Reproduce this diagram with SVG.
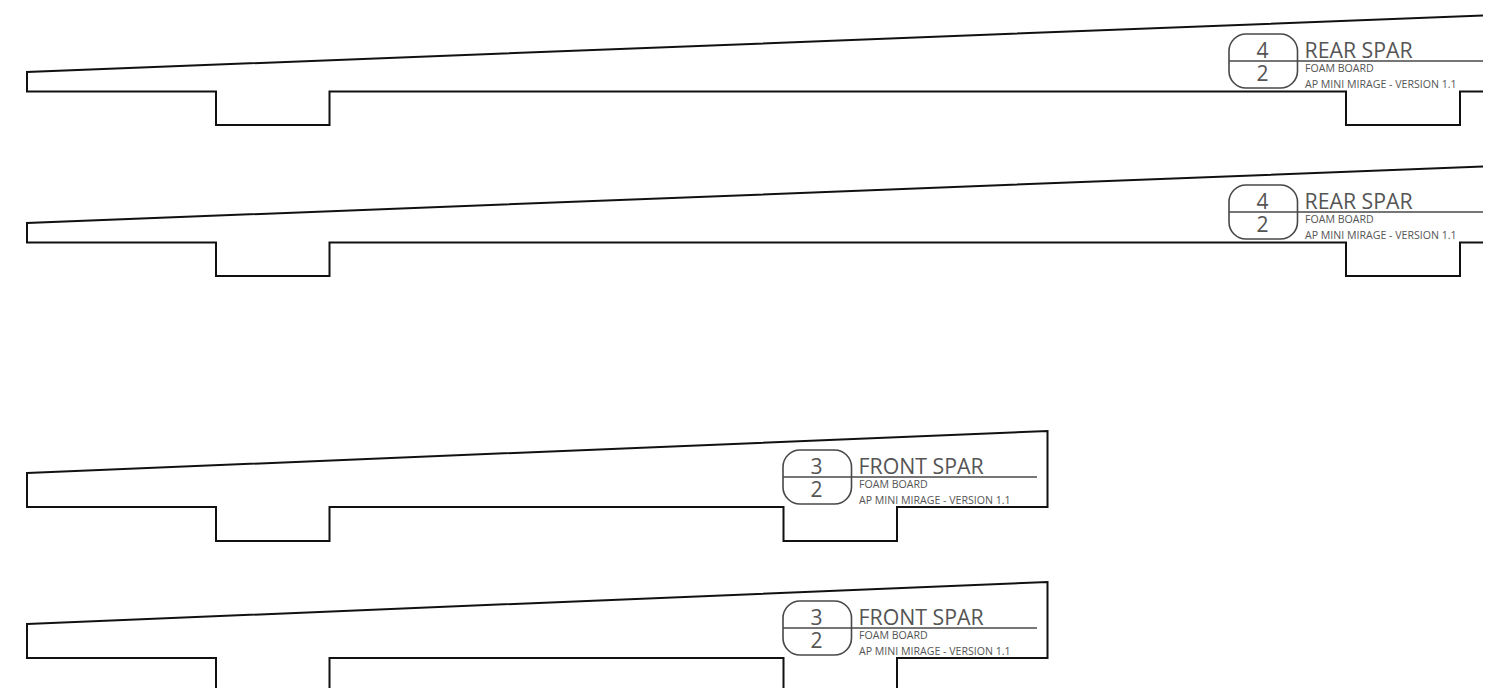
<svg xmlns="http://www.w3.org/2000/svg" width="1485" height="688" viewBox="0 0 1485 688">
<style>
.o{fill:none;stroke:#111;stroke-width:2}
.l{fill:none;stroke:#484848;stroke-width:1.600}
text{font-family:"Open Sans","Noto Sans","DejaVu Sans",sans-serif;fill:#555}
.n{font-size:21px;text-anchor:middle}
.t{font-size:21.300px}
.s{font-size:10.600px}
</style>
<rect width="1485" height="688" fill="#fff"/>
<defs>
<g id="rl">
<rect class="l" x="1229" y="34" width="68.500" height="54" rx="17" ry="17"/>
<path class="l" d="M1229 61H1483"/>
<text class="n" x="1262.500" y="57.500">4</text>
<text class="n" x="1262.500" y="80.500">2</text>
<text class="t" x="1304.500" y="57.500">REAR SPAR</text>
<text class="s" x="1305" y="72">FOAM BOARD</text>
<text class="s" x="1305" y="87.500">AP MINI MIRAGE - VERSION 1.1</text>
</g>
<g id="fl">
<rect class="l" x="783" y="450" width="68.500" height="54" rx="17" ry="17"/>
<path class="l" d="M783 477H1037"/>
<text class="n" x="816.500" y="473.500">3</text>
<text class="n" x="816.500" y="496.500">2</text>
<text class="t" x="858.500" y="473.500">FRONT SPAR</text>
<text class="s" x="859" y="488">FOAM BOARD</text>
<text class="s" x="859" y="503.500">AP MINI MIRAGE - VERSION 1.1</text>
</g>
</defs>
<g id="rear-spar-1">
<path class="o" d="M1483 15.500L27 72V91.500H216V125H329.500V91.500H1346V125H1460V91.500H1483"/>
<use href="#rl"/>
</g>
<g id="rear-spar-2">
<path class="o" d="M1483 166.500L27 223V242.500H216V276H329.500V242.500H1346V276H1460V242.500H1483"/>
<use href="#rl" y="151"/>
</g>
<g id="front-spar-1">
<path class="o" d="M27 473L1047.500 431V507H897V541H783.500V507H329.500V541H216V507H27Z"/>
<use href="#fl"/>
</g>
<g id="front-spar-2">
<path class="o" d="M27 624L1047.500 582V658H897V692H783.500V658H329.500V692H216V658H27Z"/>
<use href="#fl" y="151"/>
</g>
<g id="connectors"/>
</svg>
